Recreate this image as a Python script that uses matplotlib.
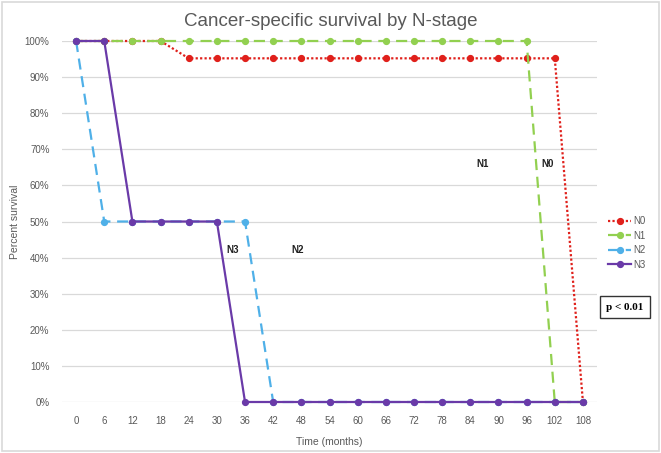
import matplotlib
matplotlib.use("Agg")
import matplotlib.pyplot as plt
from matplotlib.patches import Rectangle

plt.rcParams['font.family'] = ['Liberation Sans', 'DejaVu Sans']

months = [0, 6, 12, 18, 24, 30, 36, 42, 48, 54, 60, 66, 72, 78, 84, 90, 96, 102, 108]
n0 = [100, 100, 100, 100, 95.2, 95.2, 95.2, 95.2, 95.2, 95.2, 95.2, 95.2, 95.2, 95.2, 95.2, 95.2, 95.2, 95.2, 0]
n1 = [100, 100, 100, 100, 100, 100, 100, 100, 100, 100, 100, 100, 100, 100, 100, 100, 100, 0, 0]
n2 = [100, 50, 50, 50, 50, 50, 50, 0, 0, 0, 0, 0, 0, 0, 0, 0, 0, 0, 0]
n3 = [100, 100, 50, 50, 50, 50, 0, 0, 0, 0, 0, 0, 0, 0, 0, 0, 0, 0, 0]
series_names = ["N0", "N1", "N2", "N3"]
yticks = list(range(0, 101, 10))

fig = plt.figure(figsize=(6.61, 4.53), dpi=100)
fig.patches.append(Rectangle((0.003, 0.004), 0.994, 0.992, transform=fig.transFigure,
                             fill=False, edgecolor="#d9d9d9", linewidth=1.2))
ax = fig.add_axes([62/661, 51/453, 535/661, 361/453])

colors = ["#e0201b", "#92d050", "#4fb0e8", "#6a3aa8"]
styles = [(0, (1, 1)), (0, (5, 3)), (0, (5, 3)), "-"]
data = [n0, n1, n2, n3]
idx = list(range(len(months)))
for name, vals, c, ls in zip(series_names, data, colors, styles):
    ax.plot(idx, vals, color=c, linestyle=ls, linewidth=1.6, marker="o", markersize=4.2,
            label=name, clip_on=False, zorder=3)

ax.set_xlim(-0.5, len(months) - 0.5)
ax.set_ylim(0, 100)
ax.set_xticks(idx)
ax.set_xticklabels([str(m) for m in months])
ax.set_yticks(yticks)
ax.set_yticklabels([f"{v}%" for v in yticks])
ax.grid(axis="y", color="#d9d9d9", linewidth=0.9)
ax.set_axisbelow(True)
for s in ax.spines.values():
    s.set_visible(False)
ax.tick_params(length=0, labelsize=7, colors="#595959", pad=9)
ax.tick_params(axis="x", pad=10)
ax.set_xlabel("Time (months)", fontsize=7.5, color="#595959", labelpad=8)
ax.set_ylabel("Percent survival", fontsize=7.5, color="#595959")
ax.yaxis.set_label_coords(-42/535, 0.5)
fig.text(0.5, 1 - 21/453, "Cancer-specific survival by N-stage", ha="center", va="center",
         fontsize=13.5, color="#595959")

for lab, xv, yv in [("N1", 14.45, 65.8), ("N0", 16.75, 65.8), ("N3", 5.55, 42.0), ("N2", 7.87, 42.0)]:
    ax.text(xv, yv, lab, fontsize=7, fontweight="bold", ha="center", va="center", color="#222222")

leg = fig.legend(loc="center left", bbox_to_anchor=(603/661, 1 - 243/453), frameon=False,
                 fontsize=7, handlelength=2.4, handletextpad=0.2, labelspacing=0.45,
                 labelcolor="#595959", borderpad=0)

fig.text(625/661, 1 - 307/453, "p < 0.01", ha="center", va="center", fontsize=8,
         fontweight="bold", family="Liberation Serif",
         bbox=dict(boxstyle="square,pad=0.6", facecolor="white", edgecolor="#333333", linewidth=1.0))

fig.savefig("out.png", dpi=100)
